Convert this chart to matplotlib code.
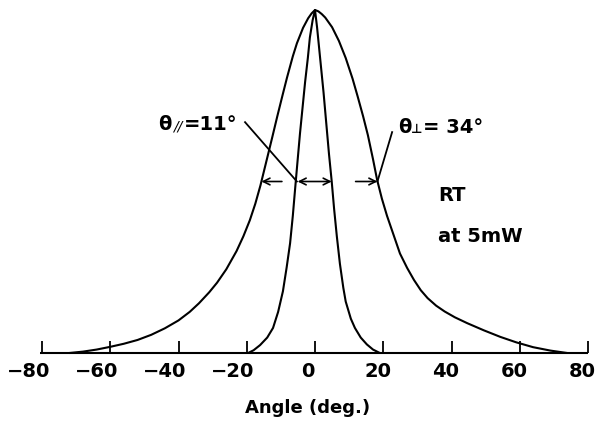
import matplotlib
matplotlib.use("Agg")
import matplotlib.pyplot as plt
from matplotlib.offsetbox import TextArea, HPacker, AnnotationBbox

# ---- data (angle in deg, relative intensity) ----
wide_angle = [-72, -68, -64, -60, -56, -52, -48, -44, -40, -36.7, -34, -31, -28.7,
              -26, -23, -21, -19.1, -17.5, -16, -14.1, -12.5, -11.1, -9.5, -8.2,
              -6.5, -5.3, -3.5, -2, -1, 0, 1, 2, 3, 5, 7, 9, 11, 12.5, 14.1,
              15.5, 17, 18.2, 19.6, 21.1, 23, 24.9, 27, 29, 31, 33, 35.5, 38, 41,
              44.6, 49.5, 54.3, 59, 63.9, 69, 73.9]
wide_int = [0.0, 0.004, 0.010, 0.018, 0.027, 0.038, 0.053, 0.072, 0.095, 0.12, 0.145,
            0.177, 0.205, 0.244, 0.297, 0.34, 0.387, 0.435, 0.488, 0.565, 0.63, 0.688,
            0.752, 0.803, 0.865, 0.903, 0.948, 0.976, 0.99, 1.0, 0.996, 0.988, 0.978,
            0.95, 0.91, 0.86, 0.80, 0.748, 0.69, 0.635, 0.565, 0.505, 0.45, 0.40,
            0.345, 0.29, 0.248, 0.213, 0.183, 0.16, 0.138, 0.121, 0.104, 0.087,
            0.066, 0.047, 0.031, 0.017, 0.007, 0.0]

narrow_angle = [-19.6, -18, -16.1, -14, -12.3, -10.8, -9.4, -8.3, -7.3, -6.5, -5.9,
                -5.2, -4.4, -3.6, -2.9, -2.1, -1.5, -0.7, 0, 0.6, 1.6, 2.5, 3.3,
                4.1, 4.9, 5.6, 6.4, 7.3, 8.3, 9, 10.5, 11.7, 13.4, 15.2, 17, 19]
narrow_int = [0, 0.008, 0.023, 0.045, 0.073, 0.12, 0.18, 0.25, 0.32, 0.40, 0.47,
              0.55, 0.64, 0.72, 0.79, 0.86, 0.92, 0.97, 1.0, 0.95, 0.85, 0.76, 0.67,
              0.58, 0.50, 0.42, 0.34, 0.26, 0.19, 0.15, 0.10, 0.073, 0.045, 0.025,
              0.01, 0]

tick_values = [-80, -60, -40, -20, 0, 20, 40, 60, 80]
tick_labels = ["\u221280", "\u221260", "\u221240", "\u221220", "0", "20", "40", "60", "80"]

half_max = 0.5
wide_half = (-15.7, 18.3)
narrow_half = (-5.1, 4.9)

fig = plt.figure(figsize=(5.96, 4.22), dpi=100)
ax = fig.add_axes([42 / 596, 69 / 422, 546 / 596, 343 / 422])
ax.set_xlim(-80, 80)
ax.set_ylim(0, 1)
ax.axis("off")

lw = 1.5
ax.plot(wide_angle, wide_int, color="black", lw=lw, clip_on=False,
        solid_joinstyle="round", solid_capstyle="round")
ax.plot(narrow_angle, narrow_int, color="black", lw=lw, clip_on=False,
        solid_joinstyle="round", solid_capstyle="round")

# baseline and ticks
ax.plot([-80.5, 80], [0, 0], color="black", lw=lw, clip_on=False, solid_capstyle="butt")
ax.vlines(tick_values, 0, 0.035, color="black", lw=1.3, clip_on=False)

font = "DejaVu Sans"
for v, lab in zip(tick_values, tick_labels):
    dx = 0 if v == 0 else 8
    ax.annotate(lab, xy=(v, 0), xycoords="data", xytext=(dx, -9), textcoords="offset pixels",
                ha="right", va="top", fontsize=14, fontweight="bold", family=font)

ax.text(-2.3, -0.16, "Angle (deg.)", ha="center", va="center", fontsize=13,
        fontweight="bold", family=font, transform=ax.transData)

# FWHM arrows
arrow_kw = dict(arrowstyle="->", lw=1.2, color="black", mutation_scale=12, shrinkA=0, shrinkB=0)
ax.annotate("", xy=(wide_half[0], half_max), xytext=(-9.7, half_max), arrowprops=arrow_kw)
ax.annotate("", xy=(wide_half[1], half_max), xytext=(11.9, half_max), arrowprops=arrow_kw)
ax.annotate("", xy=(narrow_half[1], half_max), xytext=(narrow_half[0], half_max),
            arrowprops=dict(arrow_kw, arrowstyle="<->"))

# leader lines
ax.plot([-20.5, narrow_half[0] - 0.2], [0.673, half_max], color="black", lw=1.3, clip_on=False)
ax.plot([22.6, wide_half[1]], [0.644, half_max], color="black", lw=1.3, clip_on=False)

tp = dict(fontsize=14, fontweight="bold", family=font)
box1 = HPacker(children=[TextArea("\u03b8", textprops=tp),
                         TextArea("//", textprops=dict(fontsize=10, fontweight="normal",
                                                        family=font, style="italic")),
                         TextArea("=11\u00b0", textprops=tp)],
               align="baseline", pad=0, sep=1)
ab1 = AnnotationBbox(box1, (-46.0, 0.665), xycoords="data", box_alignment=(0, 0.5),
                     frameon=False, pad=0)
ax.add_artist(ab1)

box2 = HPacker(children=[TextArea("\u03b8", textprops=tp),
                         TextArea("\u22a5", textprops=dict(fontsize=9, fontweight="bold", family=font)),
                         TextArea("= 34\u00b0", textprops=tp)],
               align="baseline", pad=0, sep=0)
ab2 = AnnotationBbox(box2, (24.3, 0.657), xycoords="data", box_alignment=(0, 0.5),
                     frameon=False, pad=0)
ax.add_artist(ab2)

ax.text(36.1, 0.458, "RT", ha="left", va="center", fontsize=14, fontweight="bold", family=font)
ax.text(36.1, 0.341, "at 5mW", ha="left", va="center", fontsize=14, fontweight="bold", family=font)

fig.savefig("out.png", dpi=100, facecolor="white")
